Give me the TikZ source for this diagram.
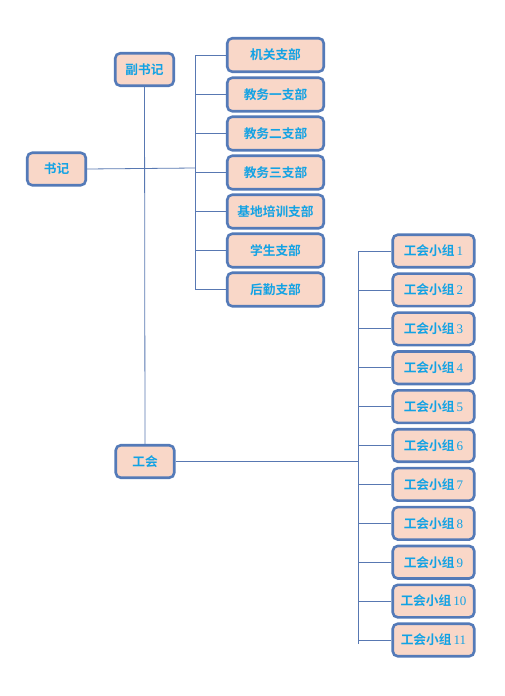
\documentclass[tikz,border=0pt]{standalone}
\usepackage{fontspec}
\newfontfamily\cjk{Noto Sans CJK SC}[BoldFont={Noto Sans CJK SC Bold}]
\newfontfamily\digits{Liberation Serif}
\definecolor{boxfill}{RGB}{249,215,200}
\definecolor{boxdraw}{RGB}{84,122,184}
\definecolor{txt}{RGB}{18,162,228}
\definecolor{ln}{RGB}{88,120,178}
\begin{document}
\begin{tikzpicture}[x=1pt,y=-1pt,
  box/.style={draw=boxdraw,fill=boxfill,line width=2.6pt,rounded corners=5pt,
    text=txt,font=\cjk\bfseries\fontsize{12.7}{14}\selectfont,inner sep=0pt},
  lbox/.style={box,minimum width=58.5pt,minimum height=32.5pt},
  mbox/.style={box,minimum width=96.5pt,minimum height=33.5pt},
  rbox/.style={box,minimum width=81.5pt,minimum height=32.5pt},
  conn/.style={draw=ln,line width=0.8pt}]
\useasboundingbox (0,0) rectangle (504,696);
\fill[white] (0,0) rectangle (504,696);
% left column
\node[lbox] (shuji) at (56.5,169) {书记};
\node[lbox] (fushuji) at (144.5,69.5) {副书记};
\node[lbox] (gonghui) at (145,461.5) {工会};
% middle column
\node[mbox] (m1) at (275.5,55) {机关支部};
\node[mbox] (m2) at (275.5,94.5) {教务一支部};
\node[mbox] (m3) at (275.5,133.5) {教务二支部};
\node[mbox] (m4) at (275.5,172.5) {教务三支部};
\node[mbox] (m5) at (275.5,211.5) {基地培训支部};
\node[mbox] (m6) at (275.5,250.5) {学生支部};
\node[mbox] (m7) at (275.5,289.5) {后勤支部};
% right column
\foreach \i in {1,...,11}{
  \node[rbox] (r\i) at (433.5,{251+38.9*(\i-1)}) {工会小组\,{\digits\mdseries\fontsize{13}{14}\selectfont\i}};
}
% connectors
\coordinate (mtop) at (195,55);
\coordinate (mbot) at (195,289.5);
\coordinate (mjoin) at (195,168);
\draw[conn] (mtop) -- (mbot);
\foreach \i in {1,...,7}{ \draw[conn] (mtop |- m\i.west) -- (m\i.west); }
\draw[conn] (shuji.east) -- (mjoin);
\draw[conn] (fushuji.south) -- (gonghui.north);
\coordinate (rtop) at (358,251);
\coordinate (rbot) at (358,644);
\draw[conn] (rtop) -- (rbot);
\foreach \i in {1,...,11}{ \draw[conn] (rtop |- r\i.west) -- (r\i.west); }
\draw[conn] (gonghui.east) -- (gonghui.east -| rtop);
\end{tikzpicture}
\end{document}
